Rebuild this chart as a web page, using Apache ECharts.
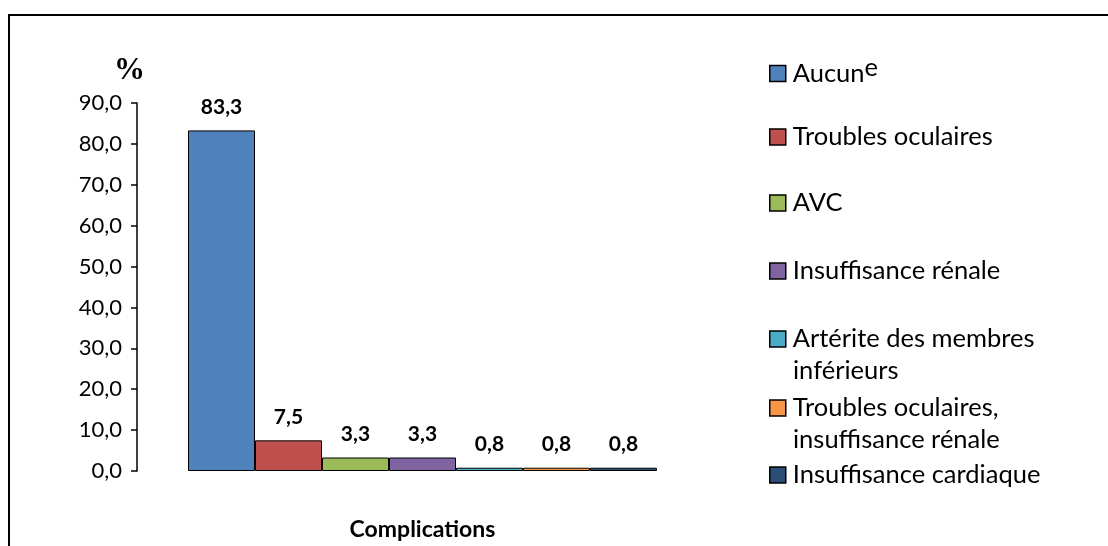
<!DOCTYPE html>
<html>
<head>
<meta charset="utf-8">
<script src="https://cdn.jsdelivr.net/npm/echarts@6/dist/echarts.min.js"></script>
<style>
  html, body { margin: 0; padding: 0; background: #fff; }
  #chart { width: 1108px; height: 546px; }
</style>
</head>
<body>
<div id="chart"></div>
<script>
// Complications observed (percentage of patients)
const categories = ['Complications'];
const seriesNames = [
  'Aucune',
  'Troubles oculaires',
  'AVC',
  'Insuffisance rénale',
  'Artérite des membres\ninférieurs',
  'Troubles oculaires,\ninsuffisance rénale',
  'Insuffisance cardiaque'
];
const seriesValues = [83.3, 7.5, 3.3, 3.3, 0.8, 0.8, 0.8];
const seriesColors = ['#4F81BD', '#C0504D', '#9BBB59', '#8064A2', '#4BACC6', '#F79646', '#2C4D75'];
const yTicks = { min: 0, max: 90, interval: 10 };

const FONT = 'Lato';
const fmt = v => Number(v).toFixed(1).replace('.', ',');

// vertical centres of the legend rows
const legendRows = [68, 137, 203, 271, 339, 408, 475];

const series = seriesNames.map((name, i) => ({
  type: 'bar',
  name: name,
  data: [seriesValues[i]],
  barWidth: 67,
  barGap: '0%',
  itemStyle: { color: seriesColors[i], borderColor: '#000', borderWidth: 1 },
  label: {
    show: true,
    position: 'top',
    distance: 13,
    formatter: p => fmt(p.value),
    fontFamily: FONT,
    fontWeight: 'bold',
    fontSize: 21,
    color: '#000'
  }
}));

// one legend block per entry so that every row sits at its own height;
// only the first line of a wrapped name goes in the legend, the rest is drawn below it
const legends = seriesNames.map((name, i) => ({
  data: [name],
  orient: 'vertical',
  left: 769,
  top: legendRows[i] - 13,
  padding: 0,
  icon: 'rect',
  itemWidth: 16,
  itemHeight: 16,
  selectedMode: false,
  itemStyle: { borderColor: '#000', borderWidth: 1.5 },
  formatter: n => {
    const first = n.split('\n')[0];
    return first === 'Aucune' ? 'Aucun{sup|e}' : first;
  },
  textStyle: {
    fontFamily: FONT,
    fontSize: 25.5,
    color: '#000',
    padding: [0, 0, 0, 2],
    rich: { sup: { fontFamily: FONT, fontSize: 25.5, color: '#000', padding: [0, 0, 11, 0] } }
  }
}));

const extraLines = [];
seriesNames.forEach((name, i) => {
  const parts = name.split('\n');
  if (parts.length > 1) {
    extraLines.push({
      type: 'text',
      left: 793,
      top: legendRows[i] + 34 - 15,
      style: { text: parts[1], font: '25.5px ' + FONT, fill: '#000' }
    });
  }
});

const chart = echarts.init(document.getElementById('chart'), null, { renderer: 'canvas' });
chart.setOption({
  animation: false,
  backgroundColor: '#fff',
  grid: { left: 137, right: 400, top: 103, bottom: 73 },
  xAxis: {
    type: 'category',
    data: categories,
    axisLine: { show: false },
    axisTick: { show: false },
    axisLabel: { show: false },
    name: categories[0],
    nameLocation: 'middle',
    nameGap: 47,
    nameTextStyle: { fontFamily: FONT, fontWeight: 'bold', fontSize: 23, color: '#000' }
  },
  yAxis: {
    type: 'value',
    min: yTicks.min,
    max: yTicks.max,
    interval: yTicks.interval,
    splitLine: { show: false },
    axisLine: { show: true, lineStyle: { color: '#000', width: 1.5 } },
    axisTick: { show: true, inside: false, length: 6, lineStyle: { color: '#000', width: 1.5 } },
    axisLabel: { formatter: fmt, fontFamily: FONT, fontSize: 22, color: '#000', margin: 15 }
  },
  legend: legends,
  series: series,
  graphic: [
    {
      type: 'polyline',
      shape: { points: [[9, 546], [9, 15], [1108, 15]] },
      style: { stroke: '#000', lineWidth: 2, fill: null }
    },
    {
      type: 'text',
      left: 114,
      top: 55,
      style: { text: '%', font: 'bold 31px "Liberation Serif"', fill: '#000' }
    }
  ].concat(extraLines)
});
</script>
</body>
</html>
